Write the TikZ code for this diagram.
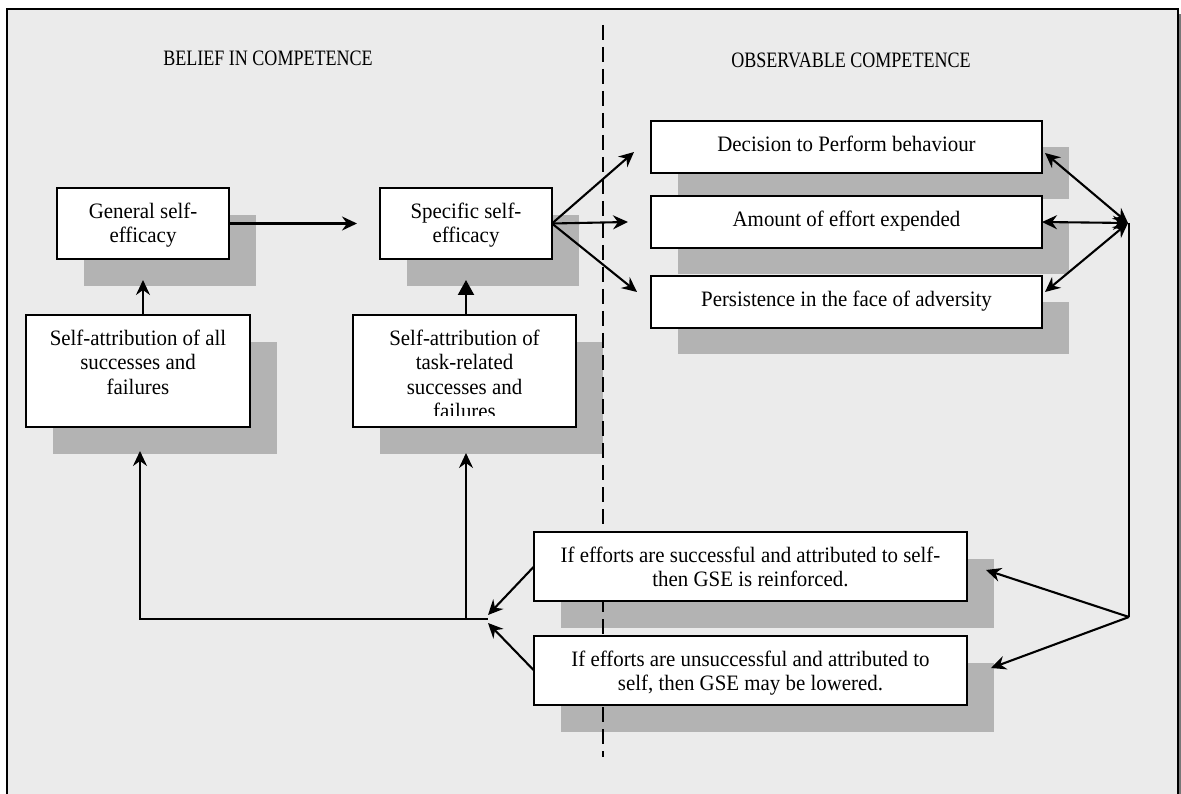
\documentclass[tikz,border=0pt]{standalone}
\usepackage{fontspec}
\setmainfont[FakeStretch=0.95]{Liberation Serif}
\newfontfamily\headfont[FakeStretch=0.82]{Liberation Serif}
\usetikzlibrary{arrows.meta,calc}

\definecolor{panel}{RGB}{235,235,235}
\definecolor{shade}{RGB}{179,179,179}
\definecolor{frameshade}{RGB}{120,120,120}

\pgfdeclarelayer{backdrop}
\pgfdeclarelayer{shadows}
\pgfsetlayers{backdrop,shadows,main}

% fixed height for the first line of every box text
\newcommand\firststrut{\rule{0pt}{16pt}}

\begin{document}
\begin{tikzpicture}[x=1pt,y=-1pt,
  box/.style={draw=black,line width=2pt,fill=white,rectangle,inner sep=0pt,outer sep=0pt},
  txt/.style={anchor=north,inner sep=0pt,align=center,font=\fontsize{22}{24.5}\selectfont},
  heading/.style={anchor=base,inner sep=0pt,font=\headfont\fontsize{22}{24}\selectfont},
  conn/.style={line width=2.1pt},
  arr/.style={conn,-{Stealth[length=15pt,width=14pt,inset=5pt]}},
  tri/.style={conn,-{Triangle[length=15pt,width=16pt]}},
  darr/.style={conn,{Stealth[length=15pt,width=14pt,inset=5pt]}-{Stealth[length=15pt,width=14pt,inset=5pt]}},
  shadowfill/.style={fill=shade},
]
\useasboundingbox (0,0) rectangle (1181,794);

% ---- boxes ----
\node[box,minimum width=172,minimum height=71] (gen) at (143,223.5) {};
\node[box,minimum width=172,minimum height=71] (spec) at (466,223.5) {};
\node[box,minimum width=224,minimum height=112] (attrall) at (138,371) {};
\node[box,minimum width=223,minimum height=112] (attrtask) at (464.5,371) {};
\node[box,minimum width=391,minimum height=52] (dec) at (846.5,147) {};
\node[box,minimum width=391,minimum height=52] (amt) at (846.5,222) {};
\node[box,minimum width=391,minimum height=52] (per) at (846.5,302) {};
\node[box,minimum width=433,minimum height=69] (ok) at (750.5,566.5) {};
\node[box,minimum width=433,minimum height=69] (bad) at (750.5,670.5) {};

% ---- box texts ----
\node[txt] (gentext) at ($(gen.north)+(0,14)$) {\firststrut General self-\\efficacy};
\node[txt] (spectext) at ($(spec.north)+(0,14)$) {\firststrut Specific self-\\efficacy};
\node[txt] (attralltext) at ($(attrall.north)+(0,14)$) {\firststrut Self-attribution of all\\successes and\\failures};
\begin{scope}
  % the last line runs past the text area and is cut off
  \clip (attrtask.north west) rectangle ($(attrtask.south east)+(0,-12)$);
  \node[txt] (attrtasktext) at ($(attrtask.north)+(0,14)$) {\firststrut Self-attribution of\\task-related\\successes and\\failures};
\end{scope}
\node[txt] (dectext) at ($(dec.north)+(0,14)$) {\firststrut Decision to Perform behaviour};
\node[txt] (amttext) at ($(amt.north)+(0,14)$) {\firststrut Amount of effort expended};
\node[txt] (pertext) at ($(per.north)+(0,14)$) {\firststrut Persistence in the face of adversity};
\node[txt] (oktext) at ($(ok.north)+(0,14)$) {\firststrut If efforts are successful and attributed to self-\\then GSE is reinforced.};
\node[txt] (badtext) at ($(bad.north)+(0,14)$) {\firststrut If efforts are unsuccessful and attributed to\\self, then GSE may be lowered.};

% ---- headings ----
\node[heading] (lefttitle) at (268,66) {BELIEF IN COMPETENCE};
\node[heading] (righttitle) at (851,68) {OBSERVABLE COMPETENCE};

% ---- panel, drop shadows and the dividing line ----
\begin{pgfonlayer}{backdrop}
  \clip (0,0) rectangle (1181,794);
  \fill[white] (0,0) rectangle (1181,794);
  \fill[frameshade] (11,14) rectangle (1190,830);
  \draw[line width=2.5pt,fill=panel] (7,9) rectangle (1178,830);
\end{pgfonlayer}
\begin{pgfonlayer}{shadows}
  \foreach \n in {gen,spec,attrall,attrtask,ok,bad}
    \fill[shadowfill] ($(\n.north west)+(27,27)$) rectangle ($(\n.south east)+(27,27)$);
  \foreach \n in {dec,amt,per}
    \fill[shadowfill] ($(\n.north west)+(27,26)$) rectangle ($(\n.south east)+(27,26)$);
  \coordinate (divtop) at (603,25);
  \coordinate (divbot) at (603,757);
  \draw[line width=1.6pt,dash pattern=on 15pt off 7pt] (divtop) -- (divbot);
\end{pgfonlayer}

% ---- connectors ----
\draw[arr] (gen.east) -- ($(spec.west)+(-23,0)$);
\draw[arr] (attrall.north -| gen.south) -- ($(gen.south)+(0,21)$);
\draw[tri] (attrtask.north -| spec.south) -- ($(spec.south)+(0,21)$);

\draw[arr] (spec.east) -- ($(dec.west)+(-17,5)$);
\draw[arr] (spec.east) -- ($(amt.west)+(-23,0)$);
\draw[arr] (spec.east) -- ($(per.west)+(-14,-10)$);

\coordinate (hub) at (1128,223);
\draw[darr] ($(dec.east)+(3,6)$) -- (hub);
\draw[darr] (amt.east) -- (hub);
\draw[darr] ($(per.east)+(3,-10)$) -- (hub);

\coordinate (fork) at (1129,617);
\draw[conn] (hub -| fork) -- (fork);
\draw[arr] (fork) -- ($(ok.east)+(19,3.5)$);
\draw[arr] (fork) -- ($(bad.east)+(24,-2.5)$);

\coordinate (join) at (487,619);
\coordinate (lcorner) at (140,619);
\draw[arr] (ok.west) -- ($(join)+(1,-4)$);
\draw[arr] (bad.west) -- ($(join)+(1,4)$);
\draw[conn,line cap=rect] (join) -- (lcorner);
\draw[arr] (lcorner) -- ++(0,-168);
\draw[arr] (join -| spec.south) -- ++(0,-166);
\end{tikzpicture}
\end{document}
